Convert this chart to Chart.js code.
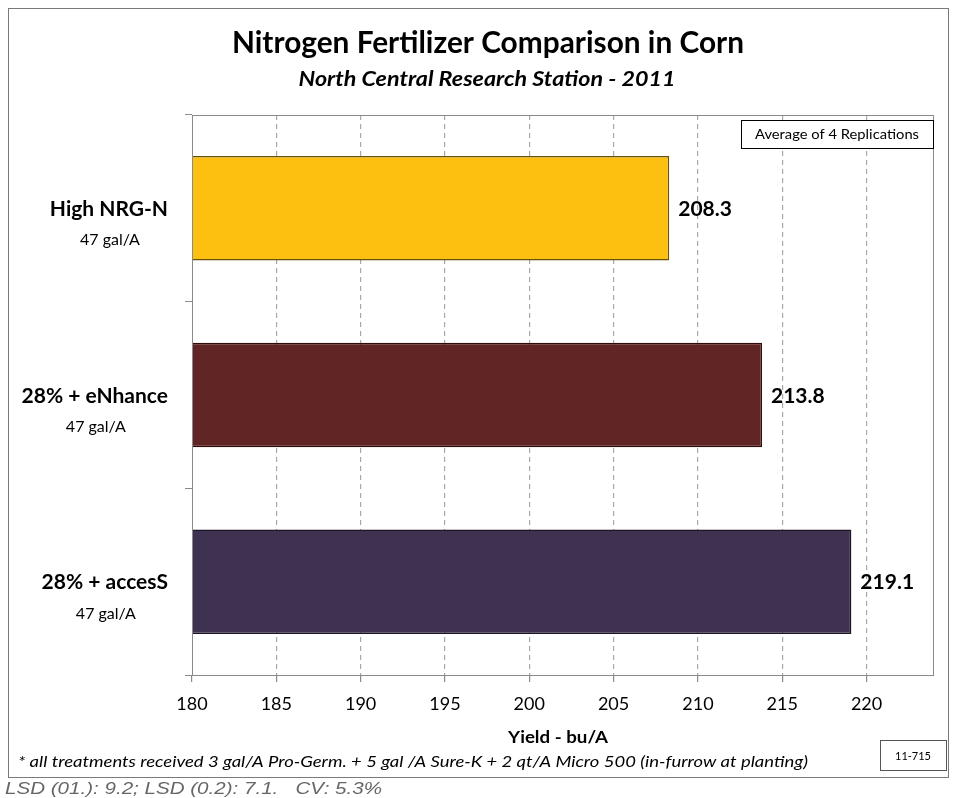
<!DOCTYPE html>
<html>
<head>
<meta charset="utf-8">
<script src="https://cdn.jsdelivr.net/npm/chart.js@4"></script>
<style>
  body { margin: 0; background: #fff; }
  canvas { display: block; }
</style>
</head>
<body>
<canvas id="grafico" width="954" height="798"></canvas>
<script>
// Datos
const tratamientos = ['High NRG-N', '28% + eNhance', '28% + accesS'];
const dosis = ['47 gal/A', '47 gal/A', '47 gal/A'];
const rendimiento = [208.3, 213.8, 219.1];
const colores = ['#FDC010', '#622526', '#3F3150'];
const bordes = ['#6a5208', '#2e0c0c', '#1c1626'];
const ejeMin = 180, ejeMax = 224, paso = 5;

const FUENTE = 'Lato, "Noto Sans", sans-serif';

// texto que se ajusta al ancho que ocupa en la referencia
function texto(ctx, str, x, y, font, align, ancho, color) {
    ctx.save();
    ctx.font = font;
    ctx.fillStyle = color || '#000';
    ctx.textBaseline = 'middle';
    ctx.textAlign = 'left';
    const w = ctx.measureText(str).width;
    const k = ancho ? ancho / w : 1;
    let x0 = x;
    if (align === 'center') x0 = x - w * k / 2;
    if (align === 'right') x0 = x - w * k;
    ctx.translate(x0, y);
    ctx.scale(k, 1);
    ctx.fillText(str, 0, 0);
    ctx.restore();
}

const extras = {
    id: 'extras',
    beforeDraw(chart) {
        const ctx = chart.ctx;
        ctx.save();
        ctx.fillStyle = '#fff';
        ctx.fillRect(0, 0, chart.width, chart.height);
        ctx.restore();
    },
    afterDraw(chart) {
        const ctx = chart.ctx;
        const a = chart.chartArea;
        const x = chart.scales.x, y = chart.scales.y;

        // marco exterior
        ctx.save();
        ctx.strokeStyle = '#7a7a7a';
        ctx.lineWidth = 1;
        ctx.strokeRect(8.5, 8.5, 940, 769);
        // marco del area
        ctx.strokeStyle = '#8a8a8a';
        ctx.strokeRect(a.left + 0.5, a.top + 0.5, a.right - a.left - 1, a.bottom - a.top);
        ctx.restore();

        // titulos
        texto(ctx, 'Nitrogen Fertilizer Comparison in Corn', 488, 43, 'bold 30px ' + FUENTE, 'center', 512);
        texto(ctx, 'North Central Research Station - 2011', 487, 79, 'italic bold 21px ' + FUENTE, 'center', 377);

        // etiquetas de categoria (bloque centrado, alineado a la derecha en x=168)
        tratamientos.forEach((t, i) => {
            const py = y.getPixelForValue(i);
            ctx.save();
            ctx.font = 'bold 21px ' + FUENTE;
            const w = ctx.measureText(t).width;
            ctx.restore();
            const cx = 168 - w / 2;
            texto(ctx, t, cx, py + 1, 'bold 21px ' + FUENTE, 'center', null);
            texto(ctx, dosis[i], cx + 1, py + 32, '16px ' + FUENTE, 'center', null);
        });

        // valores
        rendimiento.forEach((v, i) => {
            texto(ctx, v.toFixed(1), x.getPixelForValue(v) + 9, y.getPixelForValue(i) + 1, 'bold 21px ' + FUENTE, 'left', null);
        });

        // caja replicaciones
        ctx.save();
        ctx.fillStyle = '#fff';
        ctx.fillRect(741, 120, 193, 28);
        ctx.strokeStyle = '#000';
        ctx.strokeRect(741.5, 120.5, 192, 28);
        ctx.restore();
        texto(ctx, 'Average of 4 Replications', 837, 134, '14px ' + FUENTE, 'center', 164);

        // titulo eje x
        texto(ctx, 'Yield - bu/A', 558, 738, 'bold 17px ' + FUENTE, 'center', 100);

        // caja 11-715
        ctx.save();
        ctx.strokeStyle = '#555';
        ctx.strokeRect(880.5, 740.5, 66, 30);
        ctx.restore();
        texto(ctx, '11-715', 913, 756, '12px ' + FUENTE, 'center', 36);

        // notas
        texto(ctx, '* all treatments received 3 gal/A Pro-Germ. + 5 gal /A Sure-K + 2 qt/A Micro 500 (in-furrow at planting)',
            18, 762, 'italic 16px ' + FUENTE, 'left', 790);
        texto(ctx, 'LSD (01.): 9.2; LSD (0.2): 7.1.   CV: 5.3%', 5, 790,
            'italic 16px "Liberation Sans", Arial, sans-serif', 'left', 377, '#666');
    }
};

const ctxGrafico = document.getElementById('grafico').getContext('2d');
const grafico = new Chart(ctxGrafico, {
    type: 'bar',
    data: {
        labels: tratamientos,
        datasets: [{
            label: 'Yield',
            data: rendimiento,
            backgroundColor: colores,
            borderColor: bordes,
            borderWidth: 1.5,
            borderSkipped: false,
            barPercentage: 0.56,
            categoryPercentage: 1
        }]
    },
    options: {
        responsive: false,
        animation: false,
        indexAxis: 'y',
        layout: { padding: { top: 115, right: 20, left: 0, bottom: 0 } },
        plugins: { legend: { display: false }, tooltip: { enabled: false } },
        scales: {
            x: {
                min: ejeMin,
                max: ejeMax,
                afterFit: s => { s.height = 123; },
                ticks: {
                    stepSize: paso,
                    includeBounds: false,
                    padding: 11,
                    color: '#000',
                    font: { family: FUENTE, size: 18 }
                },
                grid: {
                    color: c => (c.tick && c.tick.value === ejeMin) ? 'rgba(0,0,0,0)' : '#a8a8a8',
                    tickColor: '#8a8a8a',
                    tickLength: 7,
                    lineWidth: 1.2
                },
                border: { color: '#8a8a8a', dash: [5, 4] }
            },
            y: {
                afterFit: s => { s.width = 192; },
                offset: true,
                ticks: { display: false },
                grid: {
                    offset: true,
                    drawOnChartArea: false,
                    tickLength: 7,
                    tickColor: '#8a8a8a'
                },
                border: { color: '#8a8a8a' }
            }
        }
    },
    plugins: [extras]
});
</script>
</body>
</html>
